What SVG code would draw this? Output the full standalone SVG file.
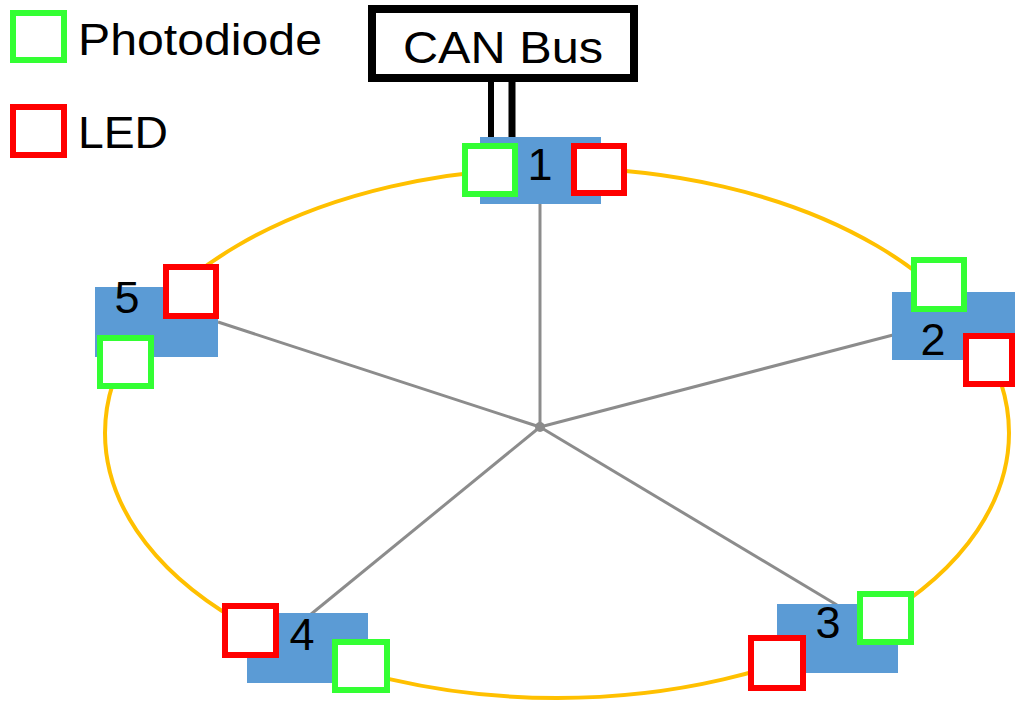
<svg xmlns="http://www.w3.org/2000/svg" width="1015" height="708" viewBox="0 0 1015 708">
<style>
.pd{fill:#fff;stroke:#33ff33;stroke-width:6}
.led{fill:#fff;stroke:#ff0000;stroke-width:6}
.blk{fill:#5b9bd5}
.t{font-family:"Liberation Sans",Arial,sans-serif;font-size:45px;fill:#000}
.spoke{stroke:#8c8c8c;stroke-width:3;fill:none}
</style>
<rect width="1015" height="708" fill="#fff"/>
<g id="ring">
<ellipse cx="557" cy="433" rx="452" ry="265" fill="none" stroke="#ffc000" stroke-width="4"/>
</g>
<g id="connectors">
<line class="spoke" x1="540" y1="427" x2="540" y2="204"/>
<line class="spoke" x1="540" y1="427" x2="893" y2="335"/>
<line class="spoke" x1="540" y1="427" x2="837" y2="605"/>
<line class="spoke" x1="540" y1="427" x2="310" y2="615"/>
<line class="spoke" x1="540" y1="427" x2="218" y2="322"/>
<circle cx="540" cy="427" r="5" fill="#8c8c8c"/>
<line x1="491" y1="80" x2="491" y2="138" stroke="#000" stroke-width="6"/>
<line x1="512" y1="80" x2="512" y2="138" stroke="#000" stroke-width="7"/>
</g>
<g id="legend">
<rect class="pd" x="13" y="13" width="51" height="47"/>
<text class="t" x="78" y="55" textLength="244" lengthAdjust="spacingAndGlyphs">Photodiode</text>
<rect class="led" x="13" y="107" width="51" height="48"/>
<text class="t" x="78" y="148" textLength="90" lengthAdjust="spacingAndGlyphs">LED</text>
</g>
<g id="canbus">
<rect x="372" y="9" width="262" height="69" fill="#fff" stroke="#000" stroke-width="8"/>
<text class="t" x="403" y="63" textLength="200" lengthAdjust="spacingAndGlyphs">CAN Bus</text>
</g>
<g id="node1">
<rect class="blk" x="480" y="137" width="121" height="67"/>
<text class="t" x="540" y="180" text-anchor="middle">1</text>
<rect class="pd" x="465" y="146" width="50" height="48"/>
<rect class="led" x="574" y="146" width="50" height="47"/>
</g>
<g id="node2">
<rect class="blk" x="892" y="292" width="123" height="68"/>
<text class="t" x="933" y="355" text-anchor="middle">2</text>
<rect class="pd" x="914" y="260" width="50" height="49"/>
<rect class="led" x="966" y="336" width="46" height="48"/>
</g>
<g id="node3">
<rect class="blk" x="777" y="604" width="121" height="69"/>
<text class="t" x="828" y="638" text-anchor="middle">3</text>
<rect class="pd" x="860" y="594" width="51" height="48"/>
<rect class="led" x="751" y="638" width="52" height="50"/>
</g>
<g id="node4">
<rect class="blk" x="247" y="613" width="121" height="70"/>
<text class="t" x="302" y="650" text-anchor="middle">4</text>
<rect class="led" x="225" y="606" width="51" height="49"/>
<rect class="pd" x="335" y="642" width="52" height="48"/>
</g>
<g id="node5">
<rect class="blk" x="95" y="287" width="123" height="70"/>
<text class="t" x="127" y="313" text-anchor="middle">5</text>
<rect class="led" x="166" y="267" width="50" height="49"/>
<rect class="pd" x="100" y="338" width="51" height="48"/>
</g>
</svg>
